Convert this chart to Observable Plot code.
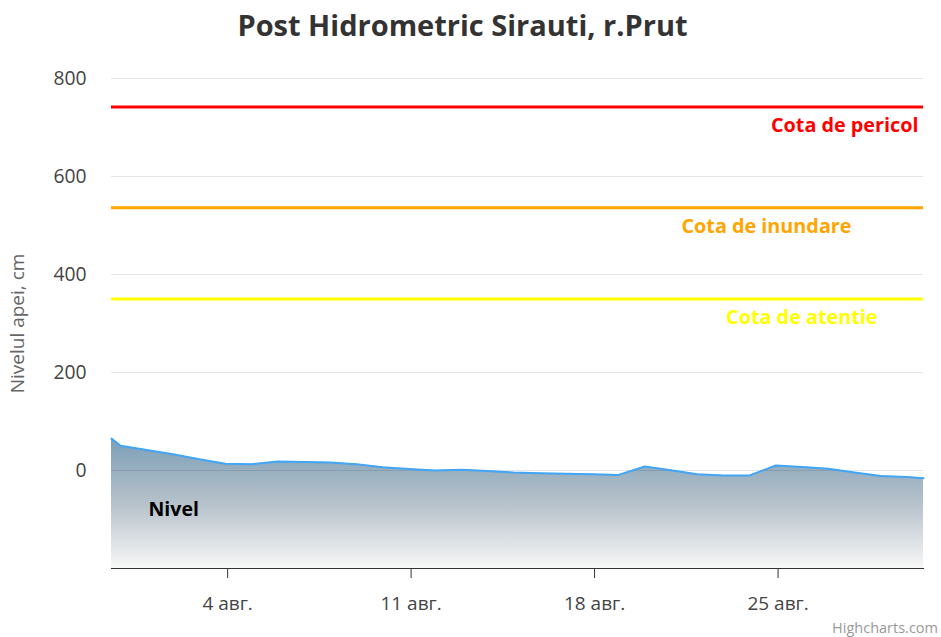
<!DOCTYPE html>
<html><head><meta charset="utf-8">
<script src="https://cdn.jsdelivr.net/npm/d3@7"></script>
<script src="https://cdn.jsdelivr.net/npm/@observablehq/plot@0.6"></script>
<style>
body{margin:0;background:#fff;font-family:"Open Sans",sans-serif;}
#wrap{position:relative;width:941px;height:637px;overflow:hidden;}
#title{height:50px;line-height:50px;text-align:center;font-size:29px;font-weight:bold;color:#333;padding-right:16px;}
#credit{position:absolute;right:3px;bottom:0px;font-size:14.5px;color:#999;}
</style></head><body>
<div id="wrap"><div id="title">Post Hidrometric Sirauti, r.Prut</div><div id="chart"></div><div id="credit">Highcharts.com</div></div>
<script>
// Measurement times (UTC) and water level, cm
const dates = [
  "2020-07-30T13:40Z","2020-07-30T22:00Z","2020-07-31T22:00Z","2020-08-01T22:00Z","2020-08-02T22:00Z",
  "2020-08-03T22:00Z","2020-08-04T22:00Z","2020-08-05T22:00Z","2020-08-06T22:00Z","2020-08-07T22:00Z",
  "2020-08-08T22:00Z","2020-08-09T22:00Z","2020-08-10T22:00Z","2020-08-11T22:00Z","2020-08-12T22:00Z",
  "2020-08-13T22:00Z","2020-08-14T22:00Z","2020-08-15T22:00Z","2020-08-16T22:00Z","2020-08-17T22:00Z",
  "2020-08-18T22:00Z","2020-08-19T22:00Z","2020-08-20T22:00Z","2020-08-21T22:00Z","2020-08-22T22:00Z",
  "2020-08-23T22:00Z","2020-08-24T22:00Z","2020-08-25T22:00Z","2020-08-26T22:00Z","2020-08-27T22:00Z",
  "2020-08-28T22:00Z","2020-08-29T22:00Z","2020-08-30T13:10Z"
];
const levels = [
  65, 50.5, 42, 33, 23,
  13.7, 13, 18.4, 17.4, 16.4,
  13, 6.8, 3, 0, 1.4,
  -1, -4, -5.5, -6.5, -7.5,
  -9, 8.2, 0.5, -7.5, -10,
  -10, 10.2, 7, 3.5, -4,
  -11, -13.5, -15.6
];
const thresholdNames = ["Cota de pericol", "Cota de inundare", "Cota de atentie"];
const thresholdValues = [742, 536, 350];
const thresholdColors = ["#ff0000", "#ffa500", "#ffff00"];
const yTicks = [0, 200, 400, 600, 800];
const yDomain = [-200, 800];
const xTickDates = ["2020-08-04T00:00Z", "2020-08-11T00:00Z", "2020-08-18T00:00Z", "2020-08-25T00:00Z"];
const xTickLabels = ["4 авг.", "11 авг.", "18 авг.", "25 авг."];
const seriesName = "Nivel";
const yAxisTitle = "Nivelul apei, cm";

const data = dates.map((d, i) => ({date: new Date(d), level: levels[i]}));
const thresholds = thresholdNames.map((n, i) => ({name: n, value: thresholdValues[i], color: thresholdColors[i]}));
const xTicks = xTickDates.map(d => new Date(d));
const labelDx = [-5, -72, -46];

const chart = Plot.plot({
  width: 941, height: 587,
  marginTop: 28, marginBottom: 69, marginLeft: 111, marginRight: 18,
  style: {fontFamily: "Open Sans, sans-serif", fontSize: "19px", color: "#333", background: "#fff", overflow: "visible"},
  x: {type: "utc", domain: d3.extent(data, d => d.date)},
  y: {domain: yDomain},
  marks: [
    Plot.areaY(data, {x: "date", y1: yDomain[0], y2: "level", fill: "url(#nivelGrad)"}),
    Plot.ruleY(yTicks, {stroke: "#000", strokeOpacity: 0.1, strokeWidth: 1}),
    Plot.lineY(data, {x: "date", y: "level", stroke: "#42a5f5", strokeWidth: 2}),
    Plot.ruleY(thresholds, {y: "value", stroke: "color", strokeWidth: 3}),
    ...thresholds.map((t, i) => Plot.text([t], {
      y: "value", text: "name", fill: "color", frameAnchor: "right", textAnchor: "end",
      lineAnchor: "middle", dx: labelDx[i], dy: 19, fontWeight: "bold", fontSize: 19.8
    })),
    Plot.text([seriesName], {frameAnchor: "bottom-left", textAnchor: "start", lineAnchor: "middle",
      dx: 37, dy: -59, fontWeight: "bold", fontSize: 19.5, fill: "#000"}),
    Plot.text([yAxisTitle], {frameAnchor: "left", rotate: -90, dx: -94, fill: "#666", fontSize: 19,
      textAnchor: "middle", lineAnchor: "middle"}),
    Plot.axisY(yTicks, {tickSize: 0, tickPadding: 25, fill: "#444", fontSize: 19.3, label: null}),
    Plot.axisX(xTicks, {tickSize: 10, tickPadding: 18, stroke: "#333", fill: "#444", fontSize: 19, label: null,
      tickFormat: (d) => xTickLabels[xTicks.findIndex(t => +t === +d)]}),
    Plot.frame({anchor: "bottom", stroke: "#333", strokeWidth: 1})
  ]
});

document.getElementById("chart").appendChild(chart);
const svg = d3.select(chart.tagName.toLowerCase() === "svg" ? chart : chart.querySelector("svg"));
const grad = svg.insert("defs", ":first-child").append("linearGradient")
  .attr("id", "nivelGrad").attr("x1", 0).attr("y1", 0).attr("x2", 0).attr("y2", 1);
grad.append("stop").attr("offset", "0%").attr("stop-color", "#7b9fb7");
grad.append("stop").attr("offset", "50%").attr("stop-color", "#b6c1ca");
grad.append("stop").attr("offset", "100%").attr("stop-color", "#f7f7f7");
</script>
</body></html>
